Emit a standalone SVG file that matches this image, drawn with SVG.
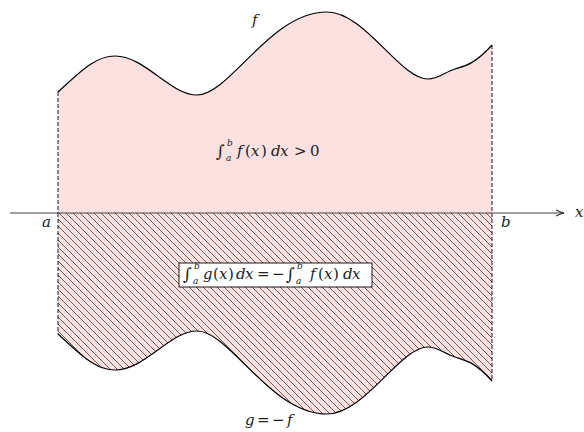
<svg xmlns="http://www.w3.org/2000/svg" width="584" height="432" viewBox="0 0 584 432">
<style>
.fill{fill:#fde0e0;stroke:none}
.curve{fill:none;stroke:#000;stroke-width:1.2}
.dash{fill:none;stroke:#000;stroke-width:0.9;stroke-dasharray:4,2}
.axis{fill:none;stroke:#444;stroke-width:1.1}
.m{font-family:'DejaVu Serif','Liberation Serif',serif;font-size:15px;fill:#222}
.i{font-style:italic}
.s{font-size:9px}
.int{font-size:17px}
</style>
<defs>
<pattern id="hatch" patternUnits="userSpaceOnUse" width="7" height="7">
<path d="M-1,-1 L8,8 M-8,-1 L1,8 M6,-1 L15,8" stroke="#3a3a3a" stroke-width="0.8"/>
</pattern>
<marker id="arr" markerWidth="10" markerHeight="8" refX="8" refY="4" orient="auto" markerUnits="userSpaceOnUse">
<path d="M0,1 Q5,3.5 8,4 Q5,4.5 0,7" fill="none" stroke="#222" stroke-width="1.1"/>
</marker>
</defs>
<g id="upper-area">
<path class="fill" d="M58,92 C80,72 95,56 115,56 C145,56 170,95 197,95 C230,95 270,12 327,12 C365,12 400,79 428,79 C438,79 445,72 455,69 C465,66 475,64 492,45 L492,213 L58,213 Z"/>
<path class="curve" d="M58,92 C80,72 95,56 115,56 C145,56 170,95 197,95 C230,95 270,12 327,12 C365,12 400,79 428,79 C438,79 445,72 455,69 C465,66 475,64 492,45"/>
<path class="dash" d="M58,92 V213 M492,45 V213"/>
</g>
<g id="lower-area">
<path class="fill" d="M58,334 C80,354 95,370 115,370 C145,370 170,331 197,331 C230,331 270,414 327,414 C365,414 400,347 428,347 C438,347 445,354 455,357 C465,360 475,362 492,381 L492,213 L58,213 Z"/>
<path fill="url(#hatch)" d="M58,334 C80,354 95,370 115,370 C145,370 170,331 197,331 C230,331 270,414 327,414 C365,414 400,347 428,347 C438,347 445,354 455,357 C465,360 475,362 492,381 L492,213 L58,213 Z"/>
<path class="curve" d="M58,334 C80,354 95,370 115,370 C145,370 170,331 197,331 C230,331 270,414 327,414 C365,414 400,347 428,347 C438,347 445,354 455,357 C465,360 475,362 492,381"/>
<path class="dash" d="M58,213 V334 M492,213 V381"/>
</g>
<g id="connectors">
<path class="axis" d="M10,213 H564" marker-end="url(#arr)"/>
</g>
<g id="labels">
<text class="m i" x="252" y="25">f</text>
<text class="m i" x="42" y="227">a</text>
<text class="m i" x="501" y="227">b</text>
<text class="m i" x="575" y="217">x</text>
<text class="m" y="156"><tspan class="int" x="216" y="157">∫</tspan><tspan class="s i" x="227" y="146">b</tspan><tspan class="s i" x="226" y="161">a</tspan><tspan class="i" x="237" y="156">f</tspan><tspan x="245">(</tspan><tspan class="i" x="251">x</tspan><tspan x="261">)</tspan><tspan class="i" x="271">d</tspan><tspan class="i" x="280">x</tspan><tspan x="294">&gt;</tspan><tspan x="310">0</tspan></text>
<g id="box-label">
<rect x="179" y="263" width="193" height="24" fill="#fff" stroke="#000" stroke-width="0.9"/>
<text class="m" y="279"><tspan class="int" x="183" y="280">∫</tspan><tspan class="s i" x="194" y="269">b</tspan><tspan class="s i" x="193" y="284">a</tspan><tspan class="i" x="203" y="279">g</tspan><tspan x="213">(</tspan><tspan class="i" x="219">x</tspan><tspan x="228">)</tspan><tspan class="i" x="236">d</tspan><tspan class="i" x="245">x</tspan><tspan x="257">=</tspan><tspan x="272">−</tspan><tspan class="int" x="286" y="280">∫</tspan><tspan class="s i" x="297" y="269">b</tspan><tspan class="s i" x="296" y="284">a</tspan><tspan class="i" x="310" y="279">f</tspan><tspan x="318">(</tspan><tspan class="i" x="324">x</tspan><tspan x="333">)</tspan><tspan class="i" x="343">d</tspan><tspan class="i" x="352">x</tspan></text>
</g>
<text class="m" y="425"><tspan class="i" x="245">g</tspan><tspan x="257">=</tspan><tspan x="272">−</tspan><tspan class="i" x="287">f</tspan></text>
</g>
</svg>
